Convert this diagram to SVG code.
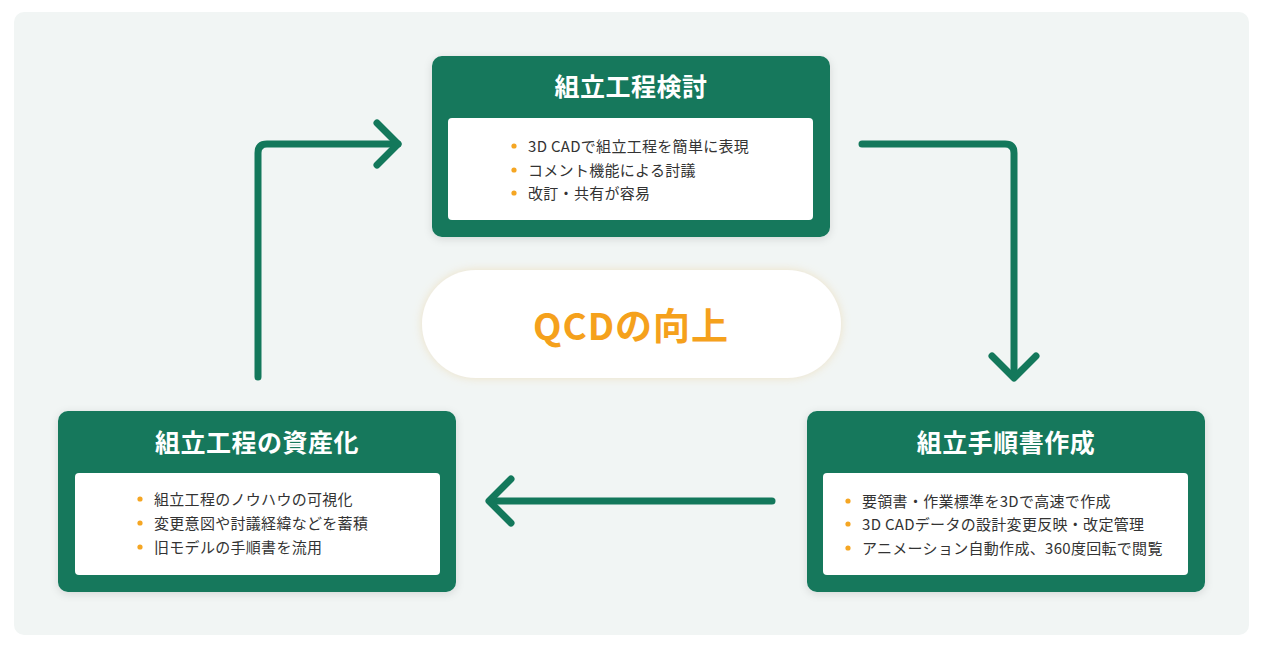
<svg xmlns="http://www.w3.org/2000/svg" width="1268" height="646" viewBox="0 0 1268 646">
<defs>
<style>
.node{fill:#13785b}
.inner{fill:#ffffff}
.title{font-family:"Noto Sans CJK JP","Noto Sans",sans-serif;font-weight:700;font-size:25px;fill:#ffffff;text-anchor:middle;letter-spacing:0.5px}
.item{font-family:"Noto Sans CJK JP","Noto Sans",sans-serif;font-size:15px;fill:#333333;letter-spacing:0.3px}
.dot{fill:#f5a623}
.conn{fill:none;stroke:#13785b;stroke-width:7;stroke-linecap:round;stroke-linejoin:round}
.qcd{font-family:"Noto Sans CJK JP","Noto Sans",sans-serif;font-weight:700;font-size:37px;fill:#f5a11c;text-anchor:middle;letter-spacing:1px}
</style>
<filter id="sh" x="-10%" y="-10%" width="120%" height="130%">
<feDropShadow dx="0" dy="2" stdDeviation="4" flood-color="#000000" flood-opacity="0.12"/>
</filter>
<filter id="glow" x="-10%" y="-20%" width="120%" height="140%">
<feDropShadow dx="0" dy="0" stdDeviation="5" flood-color="#e8c98a" flood-opacity="0.45"/>
</filter>
</defs>
<rect x="0" y="0" width="1268" height="646" fill="#ffffff"/>
<rect x="14" y="12" width="1235" height="623" rx="10" fill="#f1f5f4"/>

<g id="connectors">
<path class="conn" d="M258,377 V153 Q258,144 267,144 H398"/>
<path class="conn" d="M377,123 L398,144 L377,165"/>
<path class="conn" d="M862,144 H1005 Q1014,144 1014,153 V377"/>
<path class="conn" d="M992,356 L1014,378 L1036,356"/>
<path class="conn" d="M772,501 H490"/>
<path class="conn" d="M511,479 L489,501 L511,523"/>
</g>

<g id="center">
<rect x="422" y="270" width="419" height="108" rx="54" fill="#ffffff" filter="url(#glow)"/>
<text class="qcd" x="631" y="340">QCDの向上</text>
</g>

<g id="node-top">
<rect class="node" x="432" y="56" width="398" height="181" rx="10" filter="url(#sh)"/>
<text class="title" x="631" y="96">組立工程検討</text>
<rect class="inner" x="448" y="118" width="365" height="102" rx="4"/>
<circle class="dot" cx="514" cy="146" r="2.6"/>
<circle class="dot" cx="514" cy="170" r="2.6"/>
<circle class="dot" cx="514" cy="193" r="2.6"/>
<text class="item" x="528" y="152">3D CADで組立工程を簡単に表現</text>
<text class="item" x="528" y="176">コメント機能による討議</text>
<text class="item" x="528" y="199">改訂・共有が容易</text>
</g>

<g id="node-left">
<rect class="node" x="58" y="411" width="398" height="181" rx="10" filter="url(#sh)"/>
<text class="title" x="257" y="452">組立工程の資産化</text>
<rect class="inner" x="75" y="473" width="365" height="102" rx="4"/>
<circle class="dot" cx="140" cy="499" r="2.6"/>
<circle class="dot" cx="140" cy="523" r="2.6"/>
<circle class="dot" cx="140" cy="547" r="2.6"/>
<text class="item" x="154" y="505">組立工程のノウハウの可視化</text>
<text class="item" x="154" y="529">変更意図や討議経緯などを蓄積</text>
<text class="item" x="154" y="553">旧モデルの手順書を流用</text>
</g>

<g id="node-right">
<rect class="node" x="807" y="411" width="398" height="181" rx="10" filter="url(#sh)"/>
<text class="title" x="1006" y="452">組立手順書作成</text>
<rect class="inner" x="823" y="473" width="365" height="102" rx="4"/>
<circle class="dot" cx="848" cy="501" r="2.6"/>
<circle class="dot" cx="848" cy="524" r="2.6"/>
<circle class="dot" cx="848" cy="548" r="2.6"/>
<text class="item" x="862" y="507">要領書・作業標準を3Dで高速で作成</text>
<text class="item" x="862" y="530">3D CADデータの設計変更反映・改定管理</text>
<text class="item" x="862" y="554">アニメーション自動作成、360度回転で閲覧</text>
</g>
</svg>
